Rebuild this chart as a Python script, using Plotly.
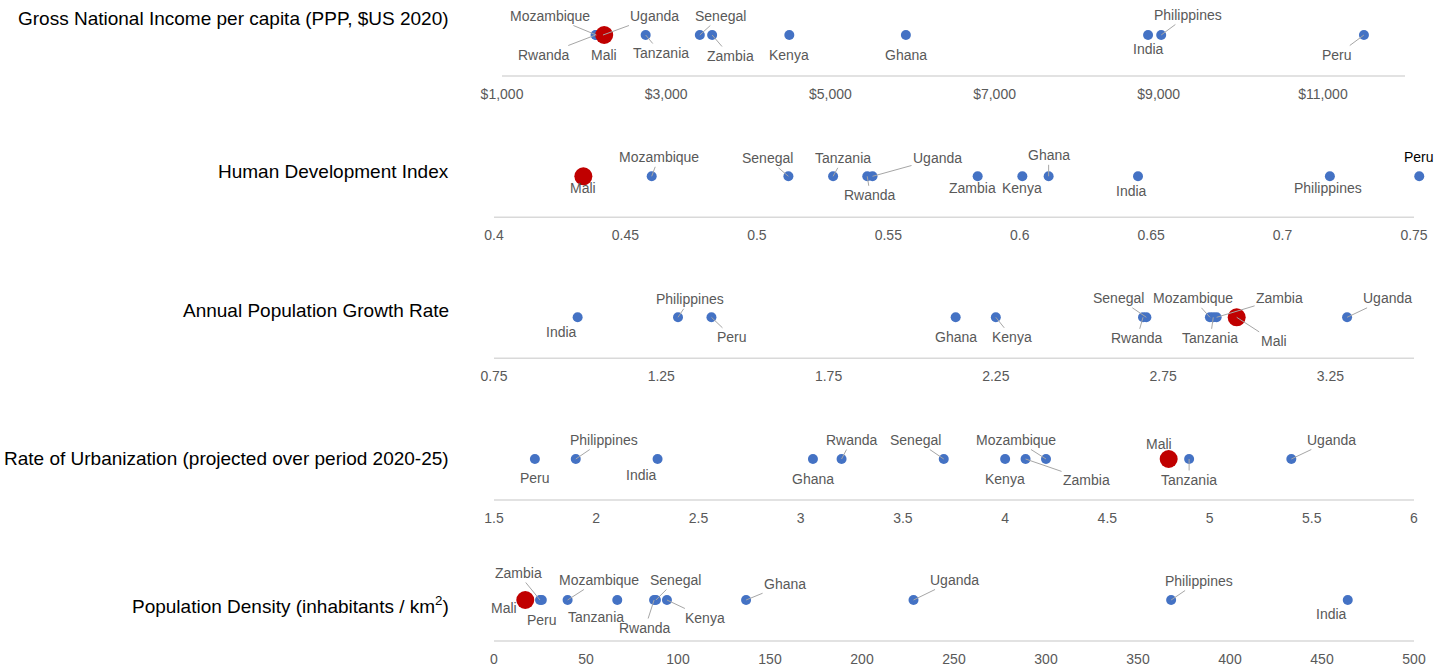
import plotly.graph_objects as go

# ---------------- data ----------------
countries = ["Mali", "Mozambique", "Rwanda", "Uganda", "Tanzania", "Senegal",
             "Zambia", "Kenya", "Ghana", "India", "Philippines", "Peru"]

gni_per_capita = [2245, 2150, 2140, 2230, 2750, 3410, 3560, 4500, 5920, 8870, 9030, 11500]
hdi = [0.434, 0.460, 0.542, 0.544, 0.529, 0.512, 0.584, 0.601, 0.611, 0.645, 0.718, 0.752]
pop_growth = [2.97, 2.89, 2.69, 3.30, 2.90, 2.70, 2.91, 2.25, 2.13, 1.00, 1.30, 1.40]
urbanization = [4.80, 4.20, 3.20, 5.40, 4.90, 3.70, 4.10, 4.00, 3.06, 2.30, 1.90, 1.70]
pop_density = [17, 40, 87, 228, 67, 88, 25, 94, 137, 464, 368, 26]

indicator_titles = [
    "Gross National Income per capita (PPP, $US 2020)",
    "Human Development Index",
    "Annual Population Growth Rate",
    "Rate of Urbanization (projected over period 2020-25)",
    "Population Density (inhabitants / km<sup>2</sup>)",
]
series = [gni_per_capita, hdi, pop_growth, urbanization, pop_density]
highlight = "Mali"

# axis settings per row: visible axis-line end value, plotted range, tick0, dtick, format
axis_line_ranges = [[1000, 12000], [0.4, 0.75], [0.75, 3.5], [1.5, 6], [0, 500]]
axis_ranges = [[1000, 12000], [0.4, 0.755], [0.75, 3.5], [1.5, 6], [0, 500]]
axis_tick0 = [1000, 0.4, 0.75, 1.5, 0]
axis_dtick = [2000, 0.05, 0.5, 0.5, 50]
axis_format = ["$,.0f", "", "", "", ""]

# ---------------- layout / style ----------------
W, H = 1438, 668
axis_px = [76, 217.3, 358.3, 500, 641]      # y pixel of each row's axis line
dot_gap = 41                                 # dots sit this many px above axis line
x_line_px = [(502, 1405), (494, 1414), (494, 1414), (494, 1414), (494, 1414)]
title_px = [18, 172, 311, 458, 605]

# label offsets (dx, dy in px; dy positive = down) and whether a leader line is drawn
label_offsets = [
    {  # GNI
        "Mozambique": (-46, -19, True), "Uganda": (52, -19, True), "Rwanda": (-52, 20, True),
        "Mali": (0, 20, False), "Tanzania": (15, 18, True), "Senegal": (21, -19, True),
        "Zambia": (18, 21, True), "Kenya": (0, 20, False), "Ghana": (0, 20, False),
        "India": (0, 14, False), "Philippines": (27, -20, True), "Peru": (-27, 20, True),
    },
    {  # HDI
        "Mali": (0, 12, False), "Mozambique": (7, -19, True), "Senegal": (-21, -18, True),
        "Tanzania": (10, -18, True), "Rwanda": (3, 19, True), "Uganda": (65, -18, True),
        "Zambia": (-5, 12, False), "Kenya": (0, 12, False), "Ghana": (0, -21, True),
        "India": (-7, 15, False), "Philippines": (-2, 12, False), "Peru": (0, -19, False),
    },
    {  # growth
        "India": (-16, 15, False), "Philippines": (12, -18, True), "Peru": (21, 20, True),
        "Ghana": (0, 20, False), "Kenya": (16, 20, True), "Senegal": (-28, -19, True),
        "Rwanda": (-6, 21, True), "Mozambique": (-17, -19, True), "Tanzania": (-3, 21, True),
        "Zambia": (63, -19, True), "Mali": (37, 24, True), "Uganda": (40, -19, True),
    },
    {  # urbanization
        "Peru": (0, 19, False), "Philippines": (28, -19, True), "India": (-16, 16, False),
        "Ghana": (0, 20, False), "Rwanda": (10, -19, True), "Senegal": (-28, -19, True),
        "Kenya": (0, 20, False), "Mozambique": (-30, -19, True), "Zambia": (61, 21, True),
        "Mali": (-10, -15, False), "Tanzania": (0, 21, True), "Uganda": (40, -19, True),
    },
    {  # density
        "Mali": (-21, 8, False), "Zambia": (-22, -27, True), "Peru": (0, 20, False),
        "Mozambique": (31, -20, True), "Tanzania": (-21, 17, False), "Senegal": (20, -20, True),
        "Rwanda": (-9, 28, True), "Kenya": (38, 18, True), "Ghana": (39, -16, True),
        "Uganda": (41, -20, True), "Philippines": (28, -19, True), "India": (-16, 14, False),
    },
]

FONT = "Liberation Sans, Arial, sans-serif"
BLUE = "#4472C4"
RED = "#C00000"
LABEL_GREY = "#595959"
LEADER = "#A6A6A6"
AXIS_LINE = "#D9D9D9"

fig = go.Figure()
layout = dict(
    width=W, height=H,
    margin=dict(l=0, r=0, t=0, b=0, pad=0, autoexpand=False),
    paper_bgcolor="white", plot_bgcolor="white",
    showlegend=False,
    font=dict(family=FONT, size=14, color=LABEL_GREY),
)
annotations = []
shapes = []

for i, vals in enumerate(series):
    n = i + 1
    xa = "x" if n == 1 else f"x{n}"
    ya = "y" if n == 1 else f"y{n}"
    xkey = "xaxis" if n == 1 else f"xaxis{n}"
    ykey = "yaxis" if n == 1 else f"yaxis{n}"

    # y domain: range [-1, 0.5] -> y=0 sits dot_gap px above the axis line
    bottom_px = axis_px[i]
    top_px = bottom_px - 1.5 * dot_gap
    y_dom = [1 - bottom_px / H, 1 - top_px / H]
    layout[ykey] = dict(domain=y_dom, range=[-1, 0.5],
                        visible=False, fixedrange=True, anchor=xa)

    # x domain chosen so the axis-line range spans x_line_px
    lx0, lx1 = x_line_px[i]
    la, lb = axis_line_ranges[i]
    ra, rb = axis_ranges[i]
    ppu = (lx1 - lx0) / (lb - la)
    dx0 = lx0 - (la - ra) * ppu
    dx1 = lx0 + (rb - la) * ppu
    layout[xkey] = dict(
        domain=[dx0 / W, min(dx1 / W, 1.0)], range=axis_ranges[i], anchor=ya,
        tick0=axis_tick0[i], dtick=axis_dtick[i], tickformat=axis_format[i],
        showgrid=False, zeroline=False, showline=False, automargin=False,
        ticks="outside", ticklen=5, tickcolor="rgba(0,0,0,0)",
        tickfont=dict(family=FONT, size=14, color=LABEL_GREY), fixedrange=True,
    )
    shapes.append(dict(type="line", xref="paper", yref="paper",
                       x0=lx0 / W, x1=lx1 / W, y0=y_dom[0], y1=y_dom[0],
                       line=dict(color=AXIS_LINE, width=1.5), layer="below"))

    blue_x = [v for c, v in zip(countries, vals) if c != highlight]
    red_x = [v for c, v in zip(countries, vals) if c == highlight]
    fig.add_trace(go.Scatter(x=blue_x, y=[0] * len(blue_x), mode="markers",
                             marker=dict(color=BLUE, size=10), cliponaxis=False,
                             xaxis=xa, yaxis=ya, hoverinfo="skip"))
    fig.add_trace(go.Scatter(x=red_x, y=[0] * len(red_x), mode="markers",
                             marker=dict(color=RED, size=18), cliponaxis=False,
                             xaxis=xa, yaxis=ya, hoverinfo="skip"))

    for c, v in zip(countries, vals):
        dx, dy, leader = label_offsets[i][c]
        color = LABEL_GREY
        if i == 1 and c == "Peru":
            color = "#000000"
        annotations.append(dict(
            x=v, y=0, xref=xa, yref=ya, text=c, showarrow=True,
            ax=dx, ay=dy, axref="pixel", ayref="pixel",
            arrowhead=0, arrowwidth=1, standoff=0,
            arrowcolor=LEADER if leader else "rgba(0,0,0,0)",
            font=dict(family=FONT, size=14, color=color),
        ))

    annotations.append(dict(
        x=451 / W, y=1 - title_px[i] / H, xref="paper", yref="paper",
        xanchor="right", yanchor="middle", text=indicator_titles[i], showarrow=False,
        font=dict(family=FONT, size=19, color="#000000"),
    ))

layout["annotations"] = annotations
layout["shapes"] = shapes
fig.update_layout(**layout)
fig.write_html("out.html", config={"displayModeBar": False},
               post_script="document.body.style.margin='0';document.body.style.overflow='hidden';")
